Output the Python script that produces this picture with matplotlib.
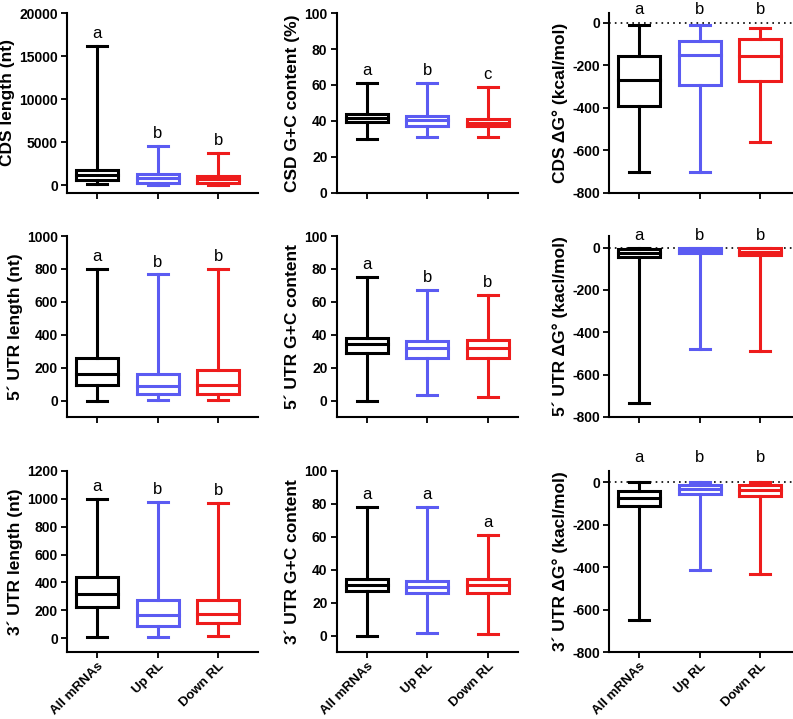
import matplotlib
matplotlib.use("Agg")
import matplotlib.pyplot as plt

plt.rcParams['font.family'] = ['Liberation Sans', 'DejaVu Sans']
plt.rcParams['font.weight'] = 'bold'
plt.rcParams['axes.labelweight'] = 'bold'
plt.rcParams['axes.unicode_minus'] = False

# ── Data: (whisker low, Q1, median, Q3, whisker high) for All / Up RL / Down RL
GROUPS = ["All mRNAs", "Up RL", "Down RL"]
COLORS = ["#000000", "#5b5bf2", "#ee1c1c"]

CDS_LEN = [(150, 600, 1150, 1750, 16200), (50, 270, 780, 1250, 4540), (50, 270, 700, 1090, 3760)]
CDS_GC = [(30, 39.7, 41.9, 44, 61), (31, 37.5, 40.3, 43, 61), (31, 37, 39, 41.2, 58.8)]
CDS_DG = [(-703, -392, -267, -157, -8), (-700, -290, -149, -86, -8), (-562, -275, -157, -75, -24)]
UTR5_LEN = [(0, 95, 162, 263, 800), (5, 45, 91, 166, 767), (5, 45, 99, 190, 800)]
UTR5_GC = [(0, 29, 34.4, 38.3, 75.3), (3.5, 26, 32, 36, 67), (2, 26, 32, 37, 64)]
UTR5_DG = [(-732, -44, -24, -6, -1), (-478, -23, -12, -3, 0), (-489, -35, -19, -3, 0)]
UTR3_LEN = [(5, 223, 319, 438, 1000), (5, 86, 163, 271, 978), (14, 110, 170, 276, 971)]
UTR3_GC = [(0, 26.8, 31, 34.5, 78), (1.6, 25.8, 29.4, 33, 78), (1, 25.8, 31, 34.5, 61)]
UTR3_DG = [(-650, -112, -73, -42, -2), (-412, -58, -35, -14, 0), (-432, -65, -38, -14, 0)]

LETTERS_CDS_LEN = ["a", "b", "b"]
LETTERS_CDS_GC = ["a", "b", "c"]
LETTERS_CDS_DG = ["a", "b", "b"]
LETTERS_UTR5_LEN = ["a", "b", "b"]
LETTERS_UTR5_GC = ["a", "b", "b"]
LETTERS_UTR5_DG = ["a", "b", "b"]
LETTERS_UTR3_LEN = ["a", "b", "b"]
LETTERS_UTR3_GC = ["a", "a", "a"]
LETTERS_UTR3_DG = ["a", "b", "b"]

# ── Panel layout ─────────────────────────────────────────────────────────
W, H = 793, 719
COL_X = [67, 336.5, 609]
COL_XMAX = [2.65, 2.5, 2.55]
ROW_Y = [(13, 193), (236, 417), (471, 652)]
UNIT = 60.5  # px per category

panels = [
    # data, letters, ylabel, ylim, yticks, dg-lift(px) or None
    (CDS_LEN, LETTERS_CDS_LEN, "CDS length (nt)", (-930, 20000), range(0, 20001, 5000), None),
    (CDS_GC, LETTERS_CDS_GC, "CSD G+C content (%)", (0, 100), range(0, 101, 20), None),
    (CDS_DG, LETTERS_CDS_DG, "CDS \u0394G\u00b0 (kcal/mol)", (-800, 47), range(-800, 1, 200), 13),
    (UTR5_LEN, LETTERS_UTR5_LEN, "5\u00b4 UTR length (nt)", (-97, 1000), range(0, 1001, 200), None),
    (UTR5_GC, LETTERS_UTR5_GC, "5\u00b4 UTR G+C content", (-10, 100), range(0, 101, 20), None),
    (UTR5_DG, LETTERS_UTR5_DG, "5\u00b4 UTR \u0394G\u00b0 (kacl/mol)", (-800, 55), range(-800, 1, 200), 12),
    (UTR3_LEN, LETTERS_UTR3_LEN, "3\u00b4 UTR length (nt)", (-100, 1200), range(0, 1201, 200), None),
    (UTR3_GC, LETTERS_UTR3_GC, "3\u00b4 UTR G+C content", (-10, 100), range(0, 101, 20), None),
    (UTR3_DG, LETTERS_UTR3_DG, "3\u00b4 UTR \u0394G\u00b0 (kacl/mol)", (-800, 52), range(-800, 1, 200), 25),
]

fig = plt.figure(figsize=(W / 100, H / 100), dpi=100)

for k, (data, letters, ylabel, ylim, yticks, lift) in enumerate(panels):
    r, c = divmod(k, 3)
    top, bot = ROW_Y[r]
    xmax = COL_XMAX[c]
    width_px = (xmax + 0.5) * UNIT
    ax = fig.add_axes([COL_X[c] / W, (H - bot) / H, width_px / W, (bot - top) / H])

    stats = [dict(whislo=s[0], q1=s[1], med=s[2], q3=s[3], whishi=s[4], fliers=[])
             for s in data]
    bp = ax.bxp(stats, positions=range(3), widths=0.7, capwidths=0.33,
                showfliers=False, manage_ticks=False)
    for i, col in enumerate(COLORS):
        parts = [bp['boxes'][i], bp['medians'][i],
                 bp['whiskers'][2 * i], bp['whiskers'][2 * i + 1],
                 bp['caps'][2 * i], bp['caps'][2 * i + 1]]
        for p in parts:
            p.set_color(col)
            p.set_linewidth(2.2)
            p.set_solid_joinstyle('miter')
            p.set_solid_capstyle('projecting')

    if lift is not None:
        ax.axhline(0, color="black", ls=(0, (1, 2.5)), lw=1.2, zorder=0)
        for i, let in enumerate(letters):
            ax.annotate(let, (i, 0), xytext=(0, lift * 0.72), textcoords="offset points",
                        ha="center", va="center", fontsize=12, fontweight="normal",
                        annotation_clip=False)
    else:
        for i, let in enumerate(letters):
            ax.annotate(let, (i, data[i][4]), xytext=(0, 3.5), textcoords="offset points",
                        ha="center", va="bottom", fontsize=12, fontweight="normal",
                        annotation_clip=False)

    ax.set_xlim(-0.5, xmax)
    ax.set_ylim(*ylim)
    ax.set_yticks(list(yticks))
    ax.set_xticks(range(3))
    if r == 2:
        ax.set_xticklabels(GROUPS, rotation=45, ha="right", rotation_mode="anchor",
                           fontsize=9.5, fontweight="bold")
    else:
        ax.set_xticklabels([])
    ax.tick_params(axis="both", length=4.5, width=1.3, labelsize=10, pad=2)
    ax.tick_params(axis="x", labelsize=9.5, pad=1.5)
    for s in ("top", "right"):
        ax.spines[s].set_visible(False)
    for s in ("left", "bottom"):
        ax.spines[s].set_linewidth(1.5)
    ax.set_ylabel(ylabel, fontsize=12.5, labelpad=3)

fig.savefig("out.png", dpi=100)
